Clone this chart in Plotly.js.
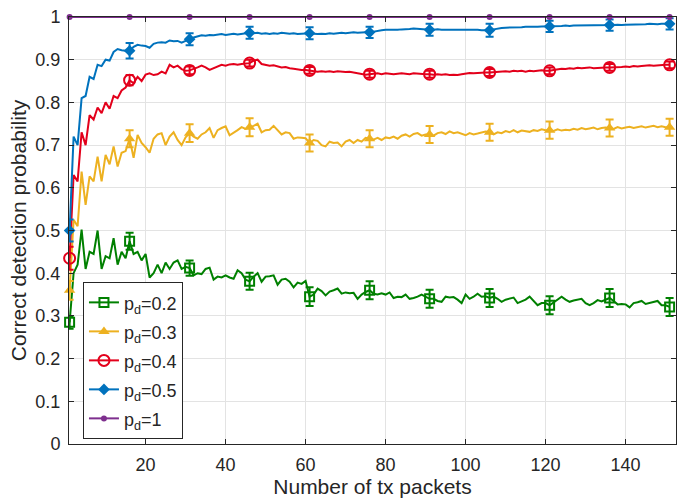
<!DOCTYPE html>
<html>
<head>
<meta charset="utf-8">
<script src="https://cdn.plot.ly/plotly-3.0.1.min.js"></script>
<style>
  html, body { margin: 0; padding: 0; background: #fff; }
  #chart { width: 677px; height: 500px; }
</style>
</head>
<body>
<div id="chart"></div>
<script>
// Number of transmitted packets: 1 .. 151
const packets = Array.from({length: 151}, (_, i) => i + 1);

// Correct detection probability for each detection probability p_d
const pd02 = [
  0.285, 0.400, 0.420, 0.502, 0.410, 0.450, 0.445, 0.500, 0.410, 0.440,
  0.435, 0.482, 0.420, 0.450, 0.435, 0.475, 0.445, 0.450, 0.430, 0.445,
  0.390, 0.400, 0.420, 0.400, 0.425, 0.410, 0.425, 0.430, 0.410, 0.415,
  0.412, 0.395, 0.400, 0.398, 0.410, 0.413, 0.385, 0.392, 0.390, 0.395,
  0.390, 0.387, 0.407, 0.400, 0.385, 0.381, 0.392, 0.400, 0.380, 0.392,
  0.393, 0.395, 0.373, 0.385, 0.387, 0.380, 0.367, 0.378, 0.375, 0.382,
  0.345, 0.350, 0.364, 0.358, 0.348, 0.357, 0.360, 0.364, 0.352, 0.355,
  0.353, 0.354, 0.340, 0.350, 0.356, 0.360, 0.352, 0.350, 0.353, 0.350,
  0.355, 0.342, 0.345, 0.344, 0.350, 0.340, 0.342, 0.345, 0.350, 0.345,
  0.340, 0.340, 0.335, 0.333, 0.345, 0.343, 0.344, 0.338, 0.330, 0.350,
  0.340, 0.345, 0.352, 0.345, 0.346, 0.342, 0.345, 0.340, 0.333, 0.338,
  0.340, 0.343, 0.330, 0.335, 0.338, 0.345, 0.335, 0.325, 0.330, 0.330,
  0.325, 0.332, 0.338, 0.345, 0.338, 0.333, 0.336, 0.338, 0.340, 0.330,
  0.325, 0.330, 0.337, 0.334, 0.338, 0.342, 0.335, 0.327, 0.328, 0.327,
  0.320, 0.330, 0.332, 0.335, 0.328, 0.330, 0.332, 0.335, 0.325, 0.325,
  0.321
];
const pd03 = [
  0.360, 0.525, 0.510, 0.638, 0.560, 0.627, 0.615, 0.673, 0.615, 0.677,
  0.655, 0.697, 0.650, 0.682, 0.686, 0.715, 0.670, 0.724, 0.705, 0.695,
  0.682, 0.715, 0.725, 0.728, 0.700, 0.720, 0.730, 0.712, 0.700, 0.718,
  0.728, 0.720, 0.715, 0.725, 0.730, 0.740, 0.717, 0.735, 0.740, 0.744,
  0.723, 0.728, 0.735, 0.742, 0.738, 0.742, 0.745, 0.750, 0.730, 0.735,
  0.736, 0.745, 0.735, 0.725, 0.730, 0.728, 0.715, 0.718, 0.717, 0.716,
  0.705, 0.712, 0.710, 0.700, 0.697, 0.708, 0.705, 0.706, 0.697, 0.708,
  0.712, 0.705, 0.712, 0.708, 0.717, 0.715, 0.713, 0.717, 0.712, 0.718,
  0.716, 0.720, 0.715, 0.722, 0.725, 0.720, 0.726, 0.728, 0.722, 0.725,
  0.725, 0.722, 0.728, 0.730, 0.726, 0.732, 0.728, 0.730, 0.726, 0.723,
  0.728, 0.725, 0.727, 0.730, 0.732, 0.730, 0.725, 0.730, 0.728, 0.733,
  0.730, 0.735, 0.730, 0.734, 0.733, 0.731, 0.735, 0.733, 0.737, 0.735,
  0.735, 0.733, 0.737, 0.734, 0.736, 0.735, 0.738, 0.736, 0.740, 0.737,
  0.739, 0.741, 0.737, 0.740, 0.741, 0.740, 0.738, 0.742, 0.739, 0.741,
  0.743, 0.740, 0.742, 0.744, 0.741, 0.743, 0.745, 0.742, 0.744, 0.742,
  0.742
];
const pd04 = [
  0.435, 0.630, 0.615, 0.730, 0.700, 0.770, 0.760, 0.788, 0.775, 0.800,
  0.785, 0.815, 0.810, 0.828, 0.835, 0.852, 0.845, 0.860, 0.850, 0.865,
  0.868, 0.864, 0.866, 0.872, 0.868, 0.888, 0.882, 0.886, 0.878, 0.874,
  0.875, 0.878, 0.882, 0.886, 0.882, 0.876, 0.880, 0.884, 0.888, 0.886,
  0.889, 0.890, 0.888, 0.890, 0.891, 0.892, 0.898, 0.900, 0.890, 0.888,
  0.886, 0.887, 0.884, 0.882, 0.883, 0.880, 0.879, 0.877, 0.876, 0.876,
  0.875, 0.874, 0.872, 0.873, 0.872, 0.873, 0.871, 0.873, 0.872, 0.871,
  0.872, 0.870, 0.868, 0.866, 0.865, 0.866, 0.867, 0.868, 0.866, 0.868,
  0.867, 0.866, 0.867, 0.868, 0.867, 0.866, 0.868, 0.867, 0.866, 0.866,
  0.866, 0.865, 0.866, 0.865, 0.866, 0.864, 0.865, 0.864, 0.866, 0.868,
  0.869, 0.868, 0.869, 0.870, 0.870, 0.870, 0.871, 0.872, 0.872, 0.873,
  0.872, 0.874, 0.873, 0.874, 0.872, 0.874, 0.873, 0.874, 0.875, 0.874,
  0.874, 0.876, 0.877, 0.879, 0.878, 0.880, 0.879, 0.881, 0.880, 0.881,
  0.882, 0.880, 0.881, 0.882, 0.882, 0.882, 0.882, 0.883, 0.883, 0.884,
  0.883, 0.885, 0.884, 0.885, 0.886, 0.887, 0.886, 0.887, 0.887, 0.888,
  0.888
];
const pd05 = [
  0.500, 0.720, 0.700, 0.810, 0.815, 0.860, 0.855, 0.888, 0.885, 0.900,
  0.898, 0.918, 0.925, 0.922, 0.921, 0.921, 0.930, 0.935, 0.933, 0.932,
  0.928, 0.937, 0.940, 0.941, 0.940, 0.945, 0.943, 0.944, 0.940, 0.945,
  0.948, 0.952, 0.955, 0.957, 0.956, 0.958, 0.957, 0.959, 0.960, 0.958,
  0.960, 0.961, 0.959, 0.960, 0.962, 0.963, 0.962, 0.963, 0.961, 0.962,
  0.960, 0.962, 0.961, 0.963, 0.962, 0.961, 0.962, 0.960, 0.961, 0.962,
  0.962, 0.961, 0.960, 0.961, 0.960, 0.962, 0.961, 0.962, 0.963, 0.962,
  0.963, 0.964, 0.963, 0.964, 0.964, 0.964, 0.966, 0.968, 0.969, 0.970,
  0.970, 0.969, 0.970, 0.971, 0.971, 0.972, 0.973, 0.972, 0.971, 0.970,
  0.970, 0.970, 0.971, 0.970, 0.970, 0.971, 0.970, 0.971, 0.970, 0.970,
  0.971, 0.970, 0.970, 0.969, 0.969, 0.969, 0.971, 0.973, 0.974, 0.975,
  0.975, 0.976, 0.975, 0.976, 0.977, 0.977, 0.976, 0.977, 0.978, 0.978,
  0.978, 0.978, 0.979, 0.979, 0.980, 0.979, 0.980, 0.980, 0.981, 0.980,
  0.980, 0.981, 0.980, 0.980, 0.981, 0.981, 0.981, 0.982, 0.981, 0.982,
  0.982, 0.983, 0.982, 0.983, 0.983, 0.984, 0.983, 0.983, 0.984, 0.984,
  0.984
];
const pd1 = packets.map(() => 1.0);

// Marked packets (every 15th) and the half-width of their error bars
const markIdx = [0, 15, 30, 45, 60, 75, 90, 105, 120, 135, 150];
const err02 = [0.015, 0.020, 0.018, 0.020, 0.022, 0.021, 0.021, 0.021, 0.021, 0.021, 0.021];
const err03 = [0.022, 0.020, 0.021, 0.021, 0.020, 0.020, 0.020, 0.020, 0.020, 0.020, 0.020];
const err04 = [0.027, 0.012, 0.009, 0.008, 0.008, 0.008, 0.008, 0.008, 0.008, 0.008, 0.008];
const err05 = [0.026, 0.018, 0.014, 0.014, 0.014, 0.013, 0.014, 0.015, 0.013, 0.013, 0.013];

const pdValues = ['0.2', '0.3', '0.4', '0.5', '1'];
const labels = pdValues.map(v => '<span style="font-size:18px">p<sub>d</sub>=' + v + '</span>');

const series = [
  {y: pd02, err: err02, color: '#008000', marker: {symbol: 'square-open', size: 9, line: {width: 2}}},
  {y: pd03, err: err03, color: '#EDB120', marker: {symbol: 'triangle-up', size: 10}},
  {y: pd04, err: err04, color: '#E3001B', marker: {symbol: 'circle-open', size: 11, line: {width: 2}}},
  {y: pd05, err: err05, color: '#0072BD', marker: {symbol: 'diamond', size: 9}},
  {y: pd1,  err: null,  color: '#7E2F8E', marker: {symbol: 'circle', size: 6}}
];

const traces = [];
series.forEach((s, k) => {
  const group = 'g' + k;
  const marker = Object.assign({color: s.color}, s.marker);
  if (marker.line) marker.line = Object.assign({color: s.color}, marker.line);
  // full curve
  traces.push({
    x: packets, y: s.y, mode: 'lines', type: 'scatter', cliponaxis: false,
    line: {color: s.color, width: 2}, legendgroup: group, showlegend: false,
    hoverinfo: 'skip'
  });
  // markers with error bars
  const t = {
    x: markIdx.map(i => packets[i]), y: markIdx.map(i => s.y[i]),
    mode: 'markers', type: 'scatter', marker: marker, cliponaxis: false,
    legendgroup: group, showlegend: false
  };
  if (s.err) {
    t.error_y = {type: 'data', array: s.err, visible: true, color: s.color, thickness: 2, width: 4};
  }
  traces.push(t);
  // legend entry (line + marker)
  traces.push({
    x: [null], y: [null], mode: 'lines+markers', type: 'scatter',
    name: labels[k], line: {color: s.color, width: 2}, marker: marker,
    legendgroup: group
  });
});

const axisColor = '#262626';
const gridColor = '#E3E3E3';
const font = {family: '"Liberation Sans", Arial, Helvetica, sans-serif', color: axisColor};

const layout = {
  width: 677, height: 500,
  margin: {l: 69, r: 1, t: 17, b: 56, pad: 0},
  paper_bgcolor: '#ffffff', plot_bgcolor: '#ffffff',
  font: Object.assign({size: 18}, font),
  showlegend: true,
  xaxis: {
    range: [0.85, 152.6], tickmode: 'linear', tick0: 0, dtick: 20,
    showgrid: true, gridcolor: gridColor, gridwidth: 1, zeroline: false,
    showline: true, linecolor: axisColor, linewidth: 1, mirror: 'ticks',
    ticks: 'inside', ticklen: 5, tickcolor: axisColor,
    tickfont: Object.assign({size: 18}, font), ticklabelstandoff: 4,
    title: {text: 'Number of tx packets', font: Object.assign({size: 21}, font), standoff: 5},
    automargin: false
  },
  yaxis: {
    range: [0, 1], tickmode: 'linear', tick0: 0, dtick: 0.1,
    showgrid: true, gridcolor: gridColor, gridwidth: 1, zeroline: false,
    showline: true, linecolor: axisColor, linewidth: 1, mirror: 'ticks',
    ticks: 'inside', ticklen: 5, tickcolor: axisColor,
    tickfont: Object.assign({size: 18}, font), ticklabelstandoff: 4,
    title: {text: 'Correct detection probability', font: Object.assign({size: 21}, font), standoff: 3},
    automargin: false
  },
  legend: {
    x: 0.023, y: 0.012, xanchor: 'left', yanchor: 'bottom',
    bgcolor: '#ffffff', bordercolor: axisColor, borderwidth: 1,
    font: Object.assign({size: 20}, font), traceorder: 'normal',
    tracegroupgap: 0, itemwidth: 30
  }
};

Plotly.newPlot('chart', traces, layout, {staticPlot: true, displayModeBar: false});
</script>
</body>
</html>
